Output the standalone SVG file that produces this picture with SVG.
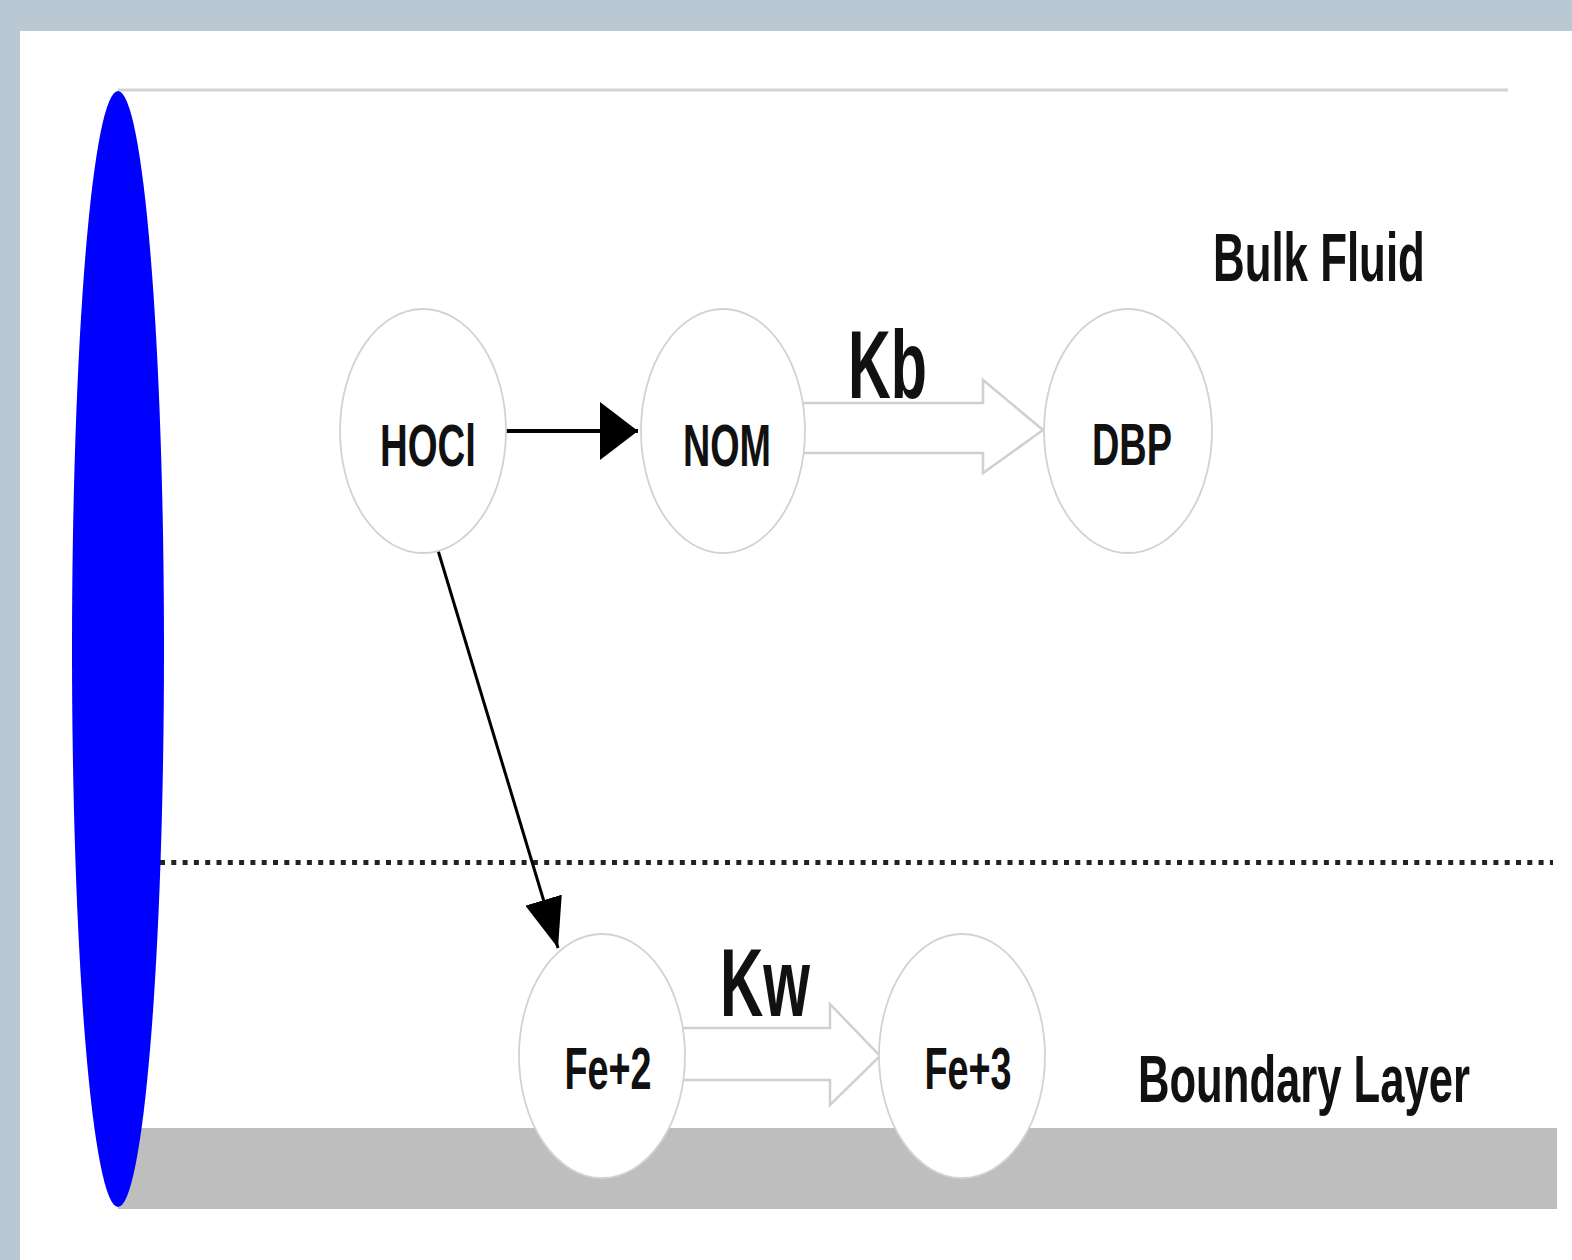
<svg xmlns="http://www.w3.org/2000/svg" width="1572" height="1260" viewBox="0 0 1572 1260">
  <style>
    .lbl { font-family: "Liberation Sans Narrow", "Liberation Sans", Arial, sans-serif; font-weight: bold; fill: #111; }
    .node ellipse { fill: #ffffff; stroke: #d2d2d2; stroke-width: 1.8; }
    .block { fill: #ffffff; stroke: #d0d0d0; stroke-width: 2.5; stroke-linejoin: miter; }
  </style>
  <defs>
    <marker id="head" viewBox="0 0 10 10" refX="10" refY="5" preserveAspectRatio="none" markerUnits="userSpaceOnUse" markerWidth="38" markerHeight="58" orient="auto">
      <path d="M0,0 L10,5 L0,10 Z" fill="#000"/>
    </marker>
    <marker id="headThin" viewBox="0 0 10 10" refX="10" refY="5" preserveAspectRatio="none" markerUnits="userSpaceOnUse" markerWidth="50" markerHeight="38" orient="auto">
      <path d="M0,0 L10,5 L0,10 Z" fill="#000"/>
    </marker>
  </defs>

  <!-- frame -->
  <rect x="0" y="0" width="1572" height="1260" fill="#bac8d4"/>
  <rect x="20" y="31" width="1552" height="1229" fill="#ffffff"/>

  <!-- pipe: top wall, wall deposit, section and layer boundary -->
  <g id="pipe">
    <line x1="118" y1="90" x2="1508" y2="90" stroke="#d3d3d3" stroke-width="3"/>
    <rect x="118" y="1128" width="1439" height="81" fill="#bebebe"/>
    <line x1="160" y1="862.5" x2="1553" y2="862.5" stroke="#222" stroke-width="5" stroke-dasharray="5 6.3"/>
    <ellipse cx="118" cy="649" rx="46" ry="558" fill="#0000ff"/>
  </g>

  <!-- connectors -->
  <g id="connectors">
    <line x1="500" y1="431" x2="638" y2="431" stroke="#000" stroke-width="4" marker-end="url(#head)"/>
    <line x1="437" y1="547" x2="558" y2="948" stroke="#000" stroke-width="3" marker-end="url(#headThin)"/>
    <polygon class="block" points="790,403 983,403 983,380 1043,430 983,473 983,453 790,453"/>
    <polygon class="block" points="670,1028 830,1028 830,1004 880,1056 830,1105 830,1080 670,1080"/>
  </g>

  <!-- species -->
  <g id="node-hocl" class="node">
    <ellipse cx="423" cy="431" rx="83" ry="122"/>
    <text class="lbl" x="428" y="466" font-size="60" text-anchor="middle" textLength="96" lengthAdjust="spacingAndGlyphs">HOCl</text>
  </g>
  <g id="node-nom" class="node">
    <ellipse cx="723" cy="431" rx="82" ry="122"/>
    <text class="lbl" x="727" y="466" font-size="60" text-anchor="middle" textLength="88" lengthAdjust="spacingAndGlyphs">NOM</text>
  </g>
  <g id="node-dbp" class="node">
    <ellipse cx="1128" cy="431" rx="84" ry="122"/>
    <text class="lbl" x="1132" y="465" font-size="60" text-anchor="middle" textLength="80" lengthAdjust="spacingAndGlyphs">DBP</text>
  </g>
  <g id="node-fe2" class="node">
    <ellipse cx="602" cy="1056" rx="83" ry="122"/>
    <text class="lbl" x="608" y="1089" font-size="60" text-anchor="middle" textLength="87" lengthAdjust="spacingAndGlyphs">Fe+2</text>
  </g>
  <g id="node-fe3" class="node">
    <ellipse cx="962" cy="1056" rx="83" ry="122"/>
    <text class="lbl" x="968" y="1089" font-size="60" text-anchor="middle" textLength="87" lengthAdjust="spacingAndGlyphs">Fe+3</text>
  </g>

  <!-- rate constants and zone labels (condensed horizontally) -->
  <g id="labels">
    <text class="lbl" x="848" y="398" font-size="96" textLength="79" lengthAdjust="spacingAndGlyphs">Kb</text>
    <text class="lbl" x="720" y="1016" font-size="96" textLength="90" lengthAdjust="spacingAndGlyphs">Kw</text>
    <text class="lbl" transform="translate(1213,281) scale(0.64,1)" x="0" y="0" font-size="69" textLength="331" lengthAdjust="spacingAndGlyphs">Bulk Fluid</text>
    <text class="lbl" transform="translate(1138,1102) scale(0.66,1)" x="0" y="0" font-size="66" textLength="503" lengthAdjust="spacingAndGlyphs">Boundary Layer</text>
  </g>
</svg>
